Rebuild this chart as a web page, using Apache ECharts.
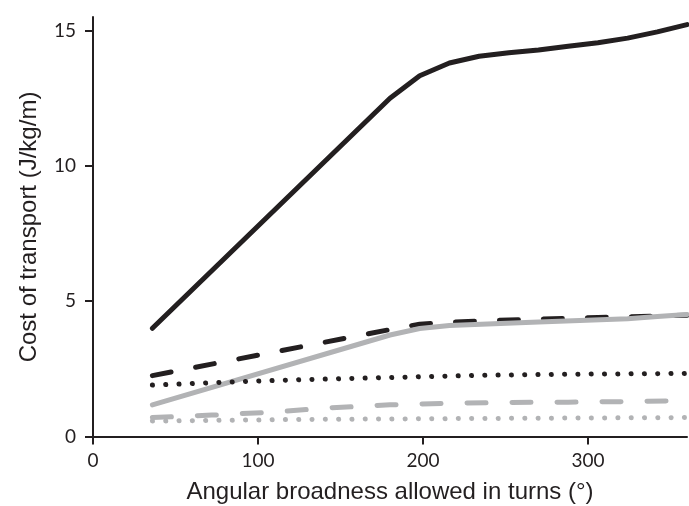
<!DOCTYPE html>
<html>
<head>
<meta charset="utf-8">
<script src="https://cdn.jsdelivr.net/npm/echarts@6/dist/echarts.min.js"></script>
<style>
html,body{margin:0;padding:0;background:#fff;}
#c{width:689px;height:506px;}
</style>
</head>
<body>
<div id="c"></div>
<script>
const xTicks = [0, 100, 200, 300];
const yTicks = [0, 5, 10, 15];
const blackSolid = [[36,4.0],[180,12.5],[198,13.33],[216,13.8],[234,14.05],[252,14.18],[270,14.28],[288,14.42],[306,14.55],[324,14.72],[342,14.95],[360,15.22]];
const blackDashed = [[36,2.25],[180,3.95],[198,4.15],[216,4.22],[234,4.27],[270,4.34],[306,4.4],[342,4.45],[360,4.48]];
const graySolid = [[36,1.17],[180,3.75],[198,3.99],[216,4.1],[270,4.23],[324,4.35],[342,4.43],[360,4.51]];
const blackDotted = [[36,1.9],[90,2.03],[126,2.1],[180,2.18],[234,2.26],[288,2.3],[360,2.33]];
const grayDashed = [[36,0.7],[72,0.79],[108,0.9],[144,1.06],[180,1.17],[216,1.23],[252,1.26],[288,1.27],[324,1.29],[360,1.33]];
const grayDotted = [[36,0.57],[126,0.63],[216,0.66],[360,0.7]];

const BLACK = '#231f20', GRAY = '#b2b3b5';
function line(data, color, type, width) {
  return {
    type: 'line', data: data, symbol: 'none', silent: true, animation: false,
    lineStyle: { color: color, width: width, type: type, cap: 'round', join: 'round' }
  };
}
const chart = echarts.init(document.getElementById('c'));
chart.setOption({
  animation: false,
  grid: { left: 93, right: 2, top: 17, bottom: 69.5, containLabel: false, outerBoundsMode: 'none' },
  xAxis: {
    type: 'value', min: 0, max: 360,
    name: 'Angular broadness allowed in turns (°)', nameLocation: 'middle', nameGap: 44,
    nameTextStyle: { fontFamily: 'Liberation Sans', fontSize: 24, color: '#231f20' },
    axisLine: { lineStyle: { color: BLACK, width: 2 } },
    axisTick: { show: true, inside: false, length: 8, lineStyle: { color: BLACK, width: 2 }, customValues: xTicks },
    axisLabel: { customValues: xTicks, margin: 15, fontFamily: 'Lato', fontSize: 19, color: '#231f20' },
    splitLine: { show: false }
  },
  yAxis: {
    type: 'value', min: 0, max: 15.5,
    axisLine: { show: true, lineStyle: { color: BLACK, width: 2 } },
    axisTick: { show: true, inside: false, length: 8, lineStyle: { color: BLACK, width: 2 }, customValues: yTicks },
    axisLabel: { customValues: yTicks, margin: 17, fontFamily: 'Lato', fontSize: 19, color: '#231f20' },
    splitLine: { show: false }
  },
  graphic: [{
    type: 'text', x: 29, y: 227, rotation: Math.PI / 2,
    style: { text: 'Cost of transport (J/kg/m)', fontFamily: 'Liberation Sans', fontSize: 24, fill: '#231f20', textAlign: 'center', textVerticalAlign: 'middle' }
  }],
  series: [
    line(blackSolid, BLACK, 'solid', 5),
    line(blackDashed, BLACK, [19, 25], 5),
    line(graySolid, GRAY, 'solid', 5),
    line(blackDotted, BLACK, [0.1, 13.2], 5),
    line(grayDashed, GRAY, [19, 26], 5),
    line(grayDotted, GRAY, [0.1, 13.2], 5)
  ]
});
</script>
</body>
</html>
